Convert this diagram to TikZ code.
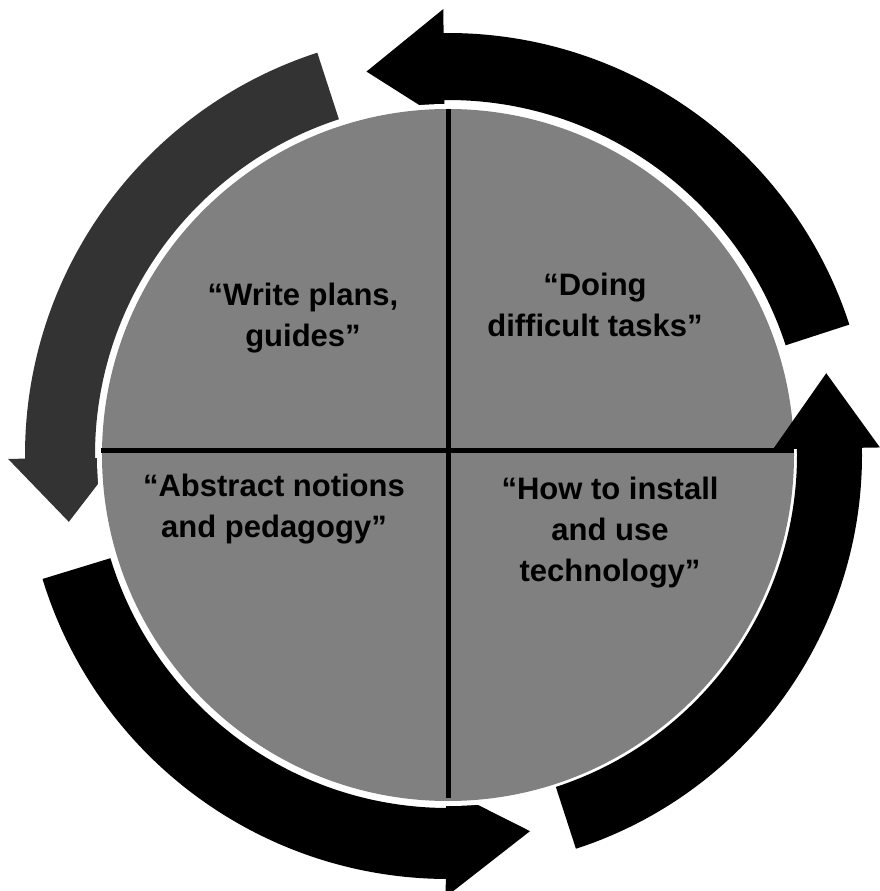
\documentclass[tikz,border=0pt]{standalone}
\usepackage{fontspec}
\setmainfont{Liberation Sans}
\begin{document}
\begin{tikzpicture}[x=1pt,y=1pt,
  lbl/.style={font=\fontsize{31}{41}\selectfont\bfseries, align=center, inner sep=0pt, text=black},
  divider/.style={line width=5pt, black}]
\useasboundingbox (-448,-436) rectangle (431,455);
% gray arrow (upper left, pointing down)
\fill[black!80] (108:353) -- (108:423) arc[start angle=108,end angle=180.5,radius=423]
  -- (180.5:440) -- (190:385) -- (180.5:330) -- (180.5:353)
  arc[start angle=180.5,end angle=108,radius=353] -- cycle;
% top arrow (pointing left)
\fill[black] (18:355) -- (18:422) arc[start angle=18,end angle=90.6,radius=422]
  -- (90.6:446) -- (102:392) -- (90.6:334) -- (90.6:355)
  arc[start angle=90.6,end angle=18,radius=355] -- cycle;
% bottom arrow (pointing right)
\fill[black] (197:353) -- (197:424) arc[start angle=197,end angle=269.7,radius=424]
  -- (269.7:442) -- (282.3:385) -- (269.7:334) -- (269.7:353)
  arc[start angle=269.7,end angle=197,radius=353] -- cycle;
% disk with white halo
\fill[white] (0,0) circle[radius=351];
\fill[black!50] (0,0) circle[radius=346];
% right arrow (pointing up)
\fill[black] (-72:349) -- (-72:414) arc[start angle=-72,end angle=1,radius=414]
  -- (1:432) -- (12.2:387) -- (1:325) -- (1:349)
  arc[start angle=1,end angle=-72,radius=349] -- cycle;
% dividers
\coordinate (vt) at (0,346);
\coordinate (vb) at (0,-343);
\coordinate (hl) at (-347,4);
\coordinate (hr) at (346,4);
\draw[divider] (vt) -- (vb);
\draw[divider] (hl) -- (hr);
% labels
\node[lbl] (write) at (-145,137) {“Write plans,\\guides”};
\node[lbl] (doing) at (147,150) {“Doing\\difficult tasks”};
\node[lbl] (abstract) at (-174,-54) {“Abstract notions\\and pedagogy”};
\node[lbl] (install) at (162,-78) {“How to install\\and use\\technology”};
\end{tikzpicture}
\end{document}
